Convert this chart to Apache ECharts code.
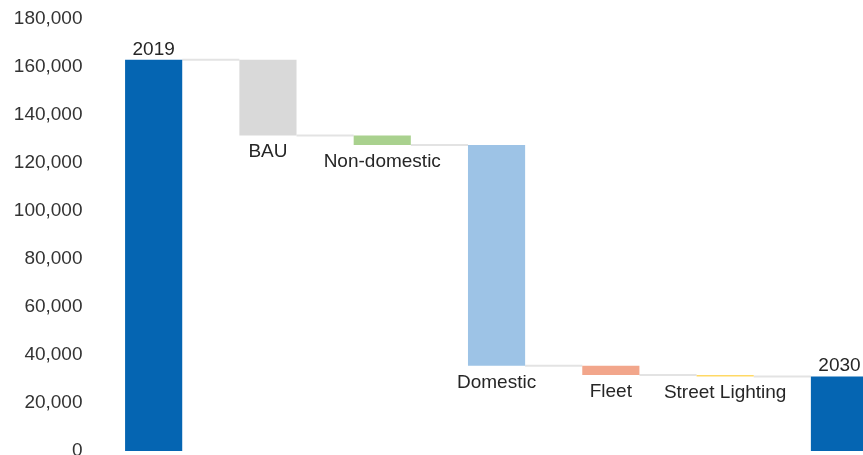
<!DOCTYPE html>
<html>
<head>
<meta charset="utf-8">
<script src="https://cdn.jsdelivr.net/npm/echarts@6/dist/echarts.min.js"></script>
<style>
html,body{margin:0;padding:0;background:#fff;}
#main{width:863px;height:455px;}
</style>
</head>
<body>
<div id="main"></div>
<script>
// Waterfall data
const categories = ['2019', 'BAU', 'Non-domestic', 'Domestic', 'Fleet', 'Street Lighting', '2030'];
const startValue = 163000;
const changes = [-31500, -4000, -92000, -3800, -700]; // BAU .. Street Lighting
const colors = ['#0565B2', '#D9D9D9', '#A9D18E', '#9DC3E6', '#F2A68B', '#FFD966', '#0565B2'];
const yTicks = { min: 0, max: 180000, interval: 20000 };

// build stacked base + visible parts
const base = [];
const visible = [];
const levels = []; // level after each category (for connectors)
let level = startValue;
base.push(0); visible.push(startValue); levels.push(level);
changes.forEach(function (c) {
  const next = level + c;
  base.push(Math.min(level, next));
  visible.push(Math.abs(c));
  level = next;
  levels.push(level);
});
base.push(0); visible.push(level);

const connectorData = levels.map(function (v, i) { return [i, v]; });

const chart = echarts.init(document.getElementById('main'), null, { renderer: 'canvas' });
const fontFamily = 'Liberation Sans, Arial, sans-serif';
chart.setOption({
  animation: false,
  backgroundColor: '#ffffff',
  grid: { left: 96.5, right: -33.6, top: 19, bottom: 4, containLabel: false, outerBoundsMode: 'none' },
  xAxis: {
    type: 'category',
    data: categories,
    axisLine: { show: false },
    axisTick: { show: false },
    axisLabel: { show: false },
    splitLine: { show: false }
  },
  yAxis: {
    type: 'value',
    min: yTicks.min,
    max: yTicks.max,
    interval: yTicks.interval,
    axisLine: { show: false },
    axisTick: { show: false },
    splitLine: { show: false },
    axisLabel: {
      margin: 14,
      color: '#333333',
      fontSize: 19,
      fontFamily: fontFamily,
      padding: [4, 0, 0, 0],
      formatter: function (v) { return v.toLocaleString('en-US'); }
    }
  },
  series: [
    {
      type: 'custom',
      z: 1,
      silent: true,
      data: connectorData,
      renderItem: function (params, api) {
        const i = api.value(0);
        if (i >= categories.length - 1) return null;
        const band = api.size([1, 0])[0];
        const half = band * 0.25;
        const p1 = api.coord([i, api.value(1)]);
        const p2 = api.coord([i + 1, api.value(1)]);
        return {
          type: 'line',
          shape: { x1: p1[0] + half, y1: p1[1], x2: p2[0] - half, y2: p2[1] },
          style: { stroke: '#E3E3E3', lineWidth: 2 }
        };
      }
    },
    {
      type: 'bar',
      stack: 'w',
      barWidth: '50%',
      z: 2,
      silent: true,
      itemStyle: { color: 'transparent' },
      data: base
    },
    {
      type: 'bar',
      stack: 'w',
      barWidth: '50%',
      z: 3,
      data: visible.map(function (v, i) {
        const isTotal = (i === 0 || i === categories.length - 1);
        return {
          value: v,
          itemStyle: { color: colors[i] },
          label: {
            show: true,
            position: isTotal ? 'top' : 'bottom',
            distance: isTotal ? 1 : 7,
            formatter: categories[i],
            color: '#262626',
            fontSize: 19,
            fontFamily: fontFamily
          }
        };
      })
    }
  ]
});
</script>
</body>
</html>
